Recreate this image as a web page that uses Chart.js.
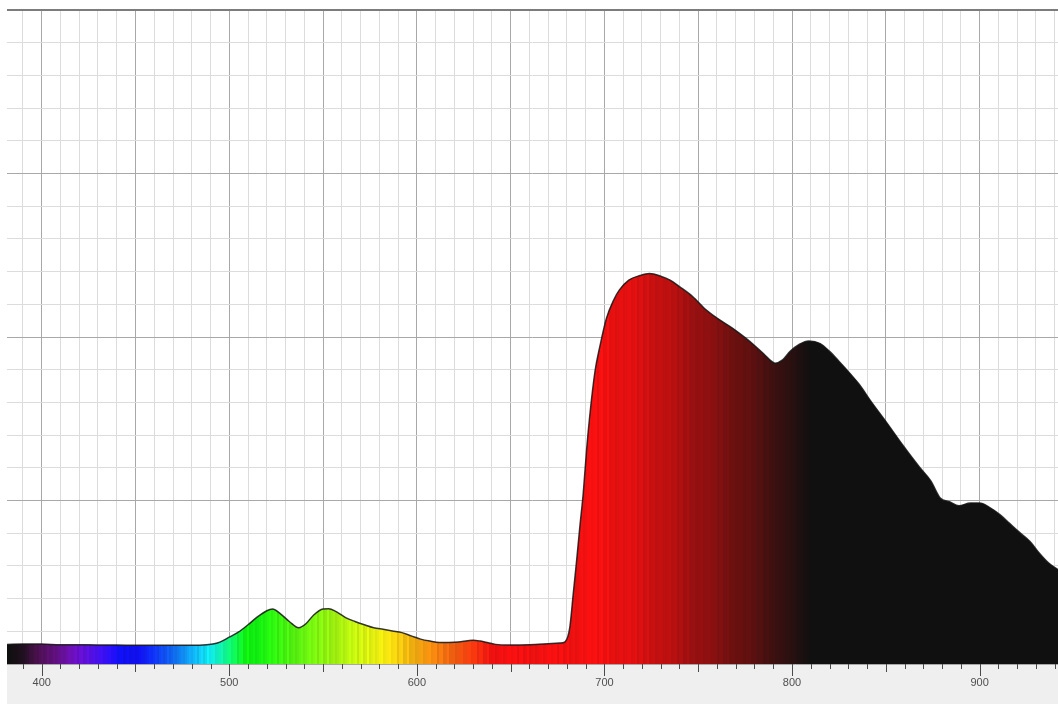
<!DOCTYPE html>
<html>
<head>
<meta charset="utf-8">
<script src="https://cdn.jsdelivr.net/npm/chart.js@4.4.1/dist/chart.umd.min.js"></script>
<style>
  html, body { margin: 0; padding: 0; background: #ffffff; }
  #wrap { width: 1058px; height: 704px; position: relative; }
</style>
</head>
<body>
<div id="wrap"><canvas id="spectrum" width="1058" height="704"></canvas></div>
<script>
// Emission spectrum: wavelength in nm and relative intensity
const wavelengths = [
  381.5, 390, 400, 410, 420, 430, 440, 450, 460, 470,
  480, 488, 492, 495, 500, 505, 510, 515, 520, 523,
  527, 532, 537, 541, 545, 550, 553, 557, 562, 567,
  572, 577, 582, 587, 592, 597, 602, 607, 612, 617,
  622, 627, 630, 634, 638, 642, 650, 660, 670, 676,
  679, 680.5, 681.6, 683.4, 685.2, 686.9, 688.7, 690.5, 692.3, 695,
  697.6, 701, 705, 708, 713, 719, 724, 730, 735, 740,
  747, 754, 761, 768, 775, 780, 785, 789, 791, 795,
  799, 804, 809, 815, 820, 825, 831, 836, 842, 850,
  859, 868, 874, 879, 884, 889, 895, 900, 905, 911,
  916, 921, 927, 932, 937, 942
];
const intensity = [
  3.0, 3.05, 3.05, 2.95, 2.95, 2.9, 2.9, 2.85, 2.85, 2.85,
  2.85, 2.95, 3.1, 3.35, 4.1, 4.9, 6.0, 7.2, 8.15, 8.4,
  7.75, 6.5, 5.55, 6.2, 7.5, 8.4, 8.45, 8.0, 7.1, 6.5,
  6.0, 5.55, 5.3, 5.05, 4.8, 4.3, 3.8, 3.5, 3.3, 3.3,
  3.35, 3.55, 3.65, 3.5, 3.25, 3.0, 2.9, 2.95, 3.1, 3.2,
  3.4, 4.2, 5.7, 10.8, 15.9, 21.0, 26.1, 32.8, 38.3, 44.8,
  48.6, 52.8, 55.7, 57.2, 58.7, 59.4, 59.7, 59.3, 58.7, 57.7,
  56.2, 54.2, 52.7, 51.4, 49.9, 48.7, 47.4, 46.3, 46.0, 46.5,
  47.8, 48.9, 49.4, 49.0, 47.8, 46.3, 44.4, 42.7, 40.2, 37.1,
  33.5, 30.1, 28.0, 25.4, 24.8, 24.2, 24.6, 24.6, 24.0, 22.8,
  21.5, 20.2, 18.7, 16.9, 15.4, 14.4
];
const tickLabels = [400, 500, 600, 700, 800, 900];
const xRange = [381.5, 941.8];
const yRange = [0, 100];

// Visible-light hue for a wavelength, dimmed towards UV and IR
function spectrumRGB(nm, shade) {
  let r = 0, g = 0, b = 0;
  if (nm < 445) { r = Math.min(1, (445 - nm) / 50); b = 1; }
  else if (nm < 490) { g = Math.pow((nm - 445) / 45, 1.4); b = 1; }
  else if (nm < 510) { g = 1; b = (510 - nm) / 20; }
  else if (nm < 580) { r = (nm - 510) / 70; g = 1; }
  else if (nm < 645) { r = 1; g = (645 - nm) / 65; }
  else { r = 1; }
  const env = [[381, 0.05], [390, 0.13], [400, 0.37], [410, 0.6], [420, 0.85], [430, 1],
               [700, 1], [725, 0.85], [750, 0.62], [778, 0.38], [799, 0.17], [811, 0.06], [950, 0.06]];
  let f = 0.06;
  for (let i = 0; i < env.length - 1; i++) {
    const [a0, v0] = env[i], [a1, v1] = env[i + 1];
    if (nm >= a0 && nm <= a1) { f = v0 + (v1 - v0) * (nm - a0) / (a1 - a0); break; }
  }
  const ch = v => Math.max(16, Math.round(255 * Math.min(1, v * f) * shade));
  return `rgb(${ch(r)},${ch(g)},${ch(b)})`;
}

let fillCache = null;
function spectrumFill(context) {
  const chart = context.chart;
  const area = chart.chartArea;
  if (!area) return '#111111';
  const key = area.left + ':' + area.right;
  if (fillCache && fillCache.key === key) return fillCache.grad;
  const xs = chart.scales.x;
  const w = area.right - area.left;
  const grad = chart.ctx.createLinearGradient(area.left, 0, area.right, 0);
  for (let px = 0; px < w; px += 2) {
    const nm = xs.getValueForPixel(area.left + px + 1);
    // fine vertical striping of the spectral band
    const shade = 1 - 0.1 * (((px * 7 + (px >> 3) * 3) % 5) / 4);
    const c = spectrumRGB(nm, shade);
    grad.addColorStop(px / w, c);
    grad.addColorStop(Math.min(1, (px + 2) / w - 1e-6), c);
  }
  fillCache = { key, grad };
  return grad;
}

// Grey axis band and graded tick marks below the plot
const axisBand = {
  id: 'axisBand',
  beforeDraw(chart) {
    const { ctx, chartArea: a } = chart;
    ctx.save();
    ctx.fillStyle = '#efefef';
    ctx.fillRect(a.left, a.bottom, a.right - a.left, chart.height - a.bottom);
    ctx.restore();
  },
  afterDraw(chart) {
    const { ctx, chartArea: a } = chart;
    const xs = chart.scales.x;
    ctx.save();
    ctx.strokeStyle = '#4a4a4a';
    ctx.lineWidth = 1;
    xs.ticks.forEach(t => {
      const v = t.value;
      const len = v % 100 === 0 ? 12 : (v % 50 === 0 ? 8 : 5);
      const px = Math.round(xs.getPixelForValue(v)) + 0.5;
      ctx.beginPath();
      ctx.moveTo(px, a.bottom);
      ctx.lineTo(px, a.bottom + len);
      ctx.stroke();
    });
    ctx.restore();
  }
};

const points = wavelengths.map((nm, i) => ({ x: nm, y: intensity[i] }));

new Chart(document.getElementById('spectrum'), {
  type: 'line',
  data: {
    datasets: [{
      data: points,
      borderColor: 'rgba(20,20,20,0.85)',
      borderWidth: 1.5,
      pointRadius: 0,
      cubicInterpolationMode: 'monotone',
      fill: 'origin',
      backgroundColor: spectrumFill
    }]
  },
  options: {
    responsive: false,
    devicePixelRatio: 1,
    animation: false,
    events: [],
    layout: { padding: { left: 7, top: 10, right: 0, bottom: 0 } },
    plugins: { legend: { display: false }, tooltip: { enabled: false } },
    scales: {
      x: {
        type: 'linear',
        min: xRange[0],
        max: xRange[1],
        afterBuildTicks(scale) {
          const t = [];
          for (let v = 390; v <= 940; v += 10) t.push({ value: v });
          scale.ticks = t;
        },
        afterFit(scale) {
          scale.height = 40;
          scale.paddingLeft = 0;
          scale.paddingRight = 0;
        },
        border: { display: false },
        grid: {
          drawTicks: false,
          color: c => (c.tick && c.tick.value % 50 === 0) ? '#a8a8a8' : '#dcdcdc',
          lineWidth: 1
        },
        ticks: {
          autoSkip: false,
          maxRotation: 0,
          padding: 12,
          color: '#4f4f4f',
          font: { family: 'Liberation Sans', size: 11 },
          callback: v => tickLabels.includes(v) ? String(v) : ''
        }
      },
      y: {
        min: yRange[0],
        max: yRange[1],
        afterBuildTicks(scale) {
          const t = [];
          for (let v = 0; v <= 100; v += 5) t.push({ value: v });
          scale.ticks = t;
        },
        afterFit(scale) {
          scale.width = 0;
          scale.paddingTop = 0;
          scale.paddingBottom = 0;
        },
        border: { display: false },
        grid: {
          drawTicks: false,
          color: c => {
            const v = c.tick ? c.tick.value : 0;
            if (v === 100) return '#7c7c7c';
            return v % 25 === 0 ? '#a8a8a8' : '#dcdcdc';
          },
          lineWidth: c => (c.tick && c.tick.value === 100) ? 2 : 1
        },
        ticks: { display: false }
      }
    }
  },
  plugins: [axisBand]
});
</script>
</body>
</html>
